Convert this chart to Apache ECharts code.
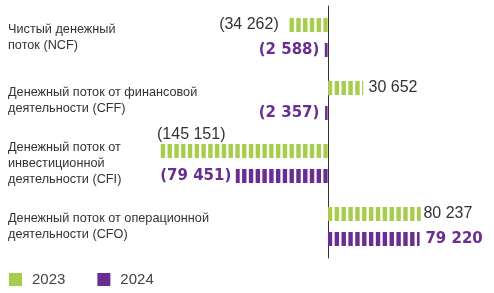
<!DOCTYPE html>
<html><head><meta charset="utf-8">
<script src="https://cdn.jsdelivr.net/npm/echarts@6/dist/echarts.min.js"></script>
<style>html,body{margin:0;padding:0;background:#fff}#c{width:494px;height:293px}</style>
</head><body><div id="c"></div>
<script>
const categories = [
  'Чистый денежный\nпоток (NCF)',
  'Денежный поток от финансовой\nдеятельности (CFF)',
  'Денежный поток от\nинвестиционной\nдеятельности (CFI)',
  'Денежный поток от операционной\nдеятельности (CFO)'
];
const seriesNames = ['2023', '2024'];
const values2023 = [-34262, 30652, -145151, 80237];
const values2024 = [-2588, -2357, -79451, 79220];

const GREEN = '#a6cd4b';
const PURPLE = '#6a2d92';

function fmt(v) {
  const s = Math.abs(v).toString().replace(/\B(?=(\d{3})+(?!\d))/g, ' ');
  return v < 0 ? '(' + s + ')' : s;
}
// label placement: long negative bars get their label above the bar, aligned to its left end
function items(arr, negDist, posDist) {
  return arr.map(v => {
    if (v < -100000) {
      return { value: v, label: { position: [3, -1], align: 'left', verticalAlign: 'bottom' } };
    }
    return { value: v, label: { position: v < 0 ? 'left' : 'right', distance: v < 0 ? negDist : posDist } };
  });
}
function mkSeries(name, arr, color, labelStyle, negDist, posDist) {
  return {
    name: name,
    type: 'pictorialBar',
    data: items(arr, negDist, posDist),
    barWidth: 14,
    barGap: '78%',
    symbol: 'rect',
    symbolRepeat: true,
    symbolSize: [4.4, 14],
    symbolMargin: 1.3,
    symbolClip: true,
    itemStyle: { color: color },
    label: Object.assign({
      show: true,
      formatter: p => fmt(p.value)
    }, labelStyle)
  };
}

const chart = echarts.init(document.getElementById('c'));
chart.setOption({
  animation: false,
  grid: { left: 154, right: 4, top: 6, bottom: 35, containLabel: false, outerBoundsMode: 'none' },
  legend: {
    left: 9, top: 272, padding: 0,
    itemWidth: 13, itemHeight: 13, itemGap: 32,
    textStyle: { fontFamily: 'Liberation Sans', fontSize: 15, color: '#444', padding: [0, 0, 0, 5] },
    data: [
      { name: seriesNames[0], icon: 'rect', itemStyle: { color: GREEN } },
      { name: seriesNames[1], icon: 'rect', itemStyle: { color: PURPLE } }
    ]
  },
  xAxis: { type: 'value', min: -150000, max: 140000, show: false },
  yAxis: {
    type: 'category',
    inverse: true,
    data: categories,
    axisLine: { show: true, onZero: true, lineStyle: { color: '#333', width: 1 } },
    axisTick: { show: false },
    axisLabel: {
      margin: 146, align: 'left',
      fontFamily: 'Liberation Sans', fontSize: 12.7,
      lineHeight: 16, color: '#333'
    }
  },
  series: [
    mkSeries(seriesNames[0], values2023, GREEN, { fontFamily: 'Liberation Sans', fontSize: 16, color: '#333' }, 4, 2),
    mkSeries(seriesNames[1], values2024, PURPLE, { fontFamily: 'DejaVu Sans', fontWeight: 'bold', fontSize: 15, color: PURPLE }, 4, 4)
  ]
});
</script></body></html>
